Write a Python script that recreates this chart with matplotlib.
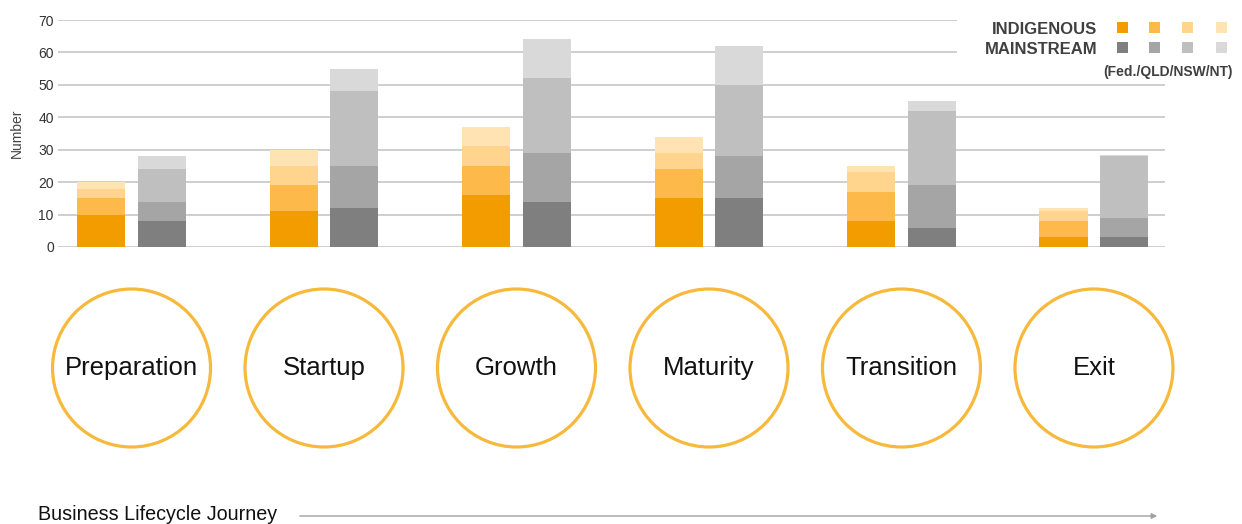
import matplotlib
matplotlib.use("Agg")
from matplotlib import pyplot as plt
from matplotlib.patches import Circle, Rectangle
import numpy as np

plt.rcParams['font.family'] = ['Liberation Sans', 'DejaVu Sans']

stages = ['Preparation', 'Startup', 'Growth', 'Maturity', 'Transition', 'Exit']
jurisdictions = ['Fed.', 'QLD', 'NSW', 'NT']

# stacked segments per jurisdiction (Fed. / QLD / NSW / NT)
indigenous = [
    [10, 11, 16, 15, 8, 3],   # Fed.
    [5, 8, 9, 9, 9, 5],       # QLD
    [3, 6, 6, 5, 6, 3],       # NSW
    [2, 5, 6, 5, 2, 1],       # NT
]
mainstream = [
    [8, 12, 14, 15, 6, 3],
    [6, 13, 15, 13, 13, 6],
    [10, 23, 23, 22, 23, 19],
    [4, 7, 12, 12, 3, 0.5],
]

orange = ['#F39C00', '#FDB94A', '#FFD58E', '#FFE3B3']
grey = ['#7F7F7F', '#A5A5A5', '#BFBFBF', '#D9D9D9']

W, H = 1242, 524
fig = plt.figure(figsize=(W / 100, H / 100), dpi=100)

# bar chart area
ax = fig.add_axes([58 / W, 1 - 247 / H, (1165 - 58) / W, (247 - 20) / H])
x = np.arange(len(stages))
bw = 0.25
off = 0.158
bot_i = np.zeros(len(stages))
bot_m = np.zeros(len(stages))
for k in range(4):
    ax.bar(x - off, indigenous[k], bw, bottom=bot_i, color=orange[k], zorder=3)
    ax.bar(x + off, mainstream[k], bw, bottom=bot_m, color=grey[k], zorder=3)
    bot_i += indigenous[k]
    bot_m += mainstream[k]

xl = (-0.382, 5.369)
ax.set_xlim(*xl)
ax.set_ylim(0, 70)
ax.set_yticks(range(0, 71, 10))
ax.set_xticks([])
ax.grid(axis='y', color='#CCCCCC', linewidth=1.3, zorder=0)
for s in ax.spines.values():
    s.set_visible(False)
ax.tick_params(axis='y', length=0, labelsize=10, labelcolor='#333333', pad=3)
ax.set_ylabel('Number', fontsize=10, color='#444444')
ax.yaxis.set_label_coords(-0.031, 0.5)

# lifecycle circles below, sharing the x scale
low_top, low_bot = 280, 460
ax2 = fig.add_axes([58 / W, 1 - low_bot / H, (1165 - 58) / W, (low_bot - low_top) / H])
px_per_unit = (1165 - 58) / (xl[1] - xl[0])
ax2.set_xlim(*xl)
ax2.set_ylim(0, (low_bot - low_top) / px_per_unit)
ax2.axis('off')
cy = (low_bot - 368) / px_per_unit
r = 79 / px_per_unit
for i, name in enumerate(stages):
    ax2.add_patch(Circle((x[i], cy), r, facecolor='white', edgecolor='#F6B93B',
                         linewidth=2.3, clip_on=False))
    ax2.text(x[i], cy, name, ha='center', va='center', fontsize=18.5, color='#111111')

# legend block (white box hides top gridlines)
fig.patches.append(Rectangle((957 / W, 1 - 78 / H), (W - 957) / W, 78 / H,
                             transform=fig.transFigure, facecolor='white',
                             edgecolor='none', zorder=1))
fig.text(1097 / W, 1 - 30 / H, 'INDIGENOUS', ha='right', va='center',
         fontsize=12, fontweight='bold', color='#404040', zorder=2)
fig.text(1097 / W, 1 - 50 / H, 'MAINSTREAM', ha='right', va='center',
         fontsize=12, fontweight='bold', color='#404040', zorder=2)
fig.text(1168 / W, 1 - 72 / H, '(' + '/'.join(jurisdictions) + ')', ha='center',
         va='center', fontsize=10, fontweight='bold', color='#404040', zorder=2)
sq = 11
for k, cx in enumerate([1122, 1154, 1187, 1221]):
    for cyy, cols in [(27, orange), (47, grey)]:
        fig.patches.append(Rectangle(((cx - sq / 2) / W, 1 - (cyy + sq / 2) / H), sq / W, sq / H,
                                     transform=fig.transFigure, facecolor=cols[k],
                                     edgecolor='none', zorder=2))

# bottom journey label and arrow
fig.text(38 / W, 1 - 515 / H, 'Business Lifecycle Journey', ha='left', va='center',
         fontsize=14.2, color='#111111')
fig.add_artist(matplotlib.patches.FancyArrowPatch(
    (297 / W, 1 - 516 / H), (1160 / W, 1 - 516 / H), transform=fig.transFigure,
    arrowstyle='-|>', mutation_scale=8, color='#A0A0A0', linewidth=1.0))

fig.savefig('out.png', dpi=100, facecolor='white')
